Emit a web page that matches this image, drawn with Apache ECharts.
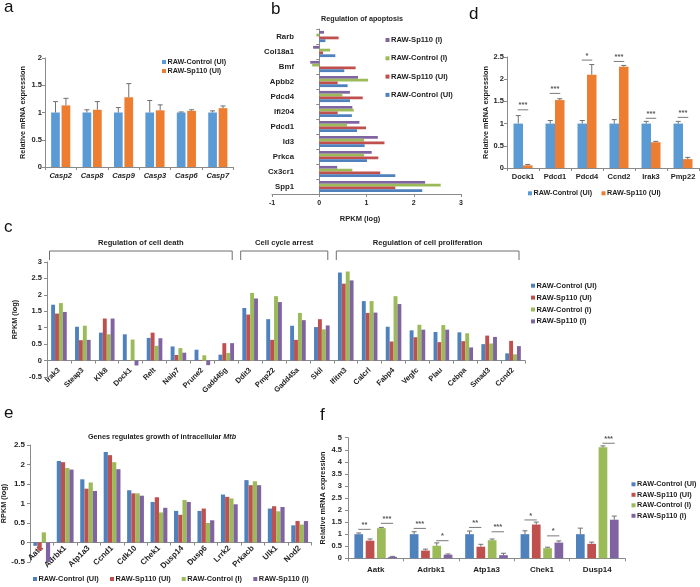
<!DOCTYPE html>
<html><head><meta charset="utf-8">
<script src="https://cdn.jsdelivr.net/npm/echarts@6/dist/echarts.min.js"></script>
<style>html,body{margin:0;padding:0;background:#fff}#c{width:700px;height:587px}</style>
</head><body><div id="c"></div>
<script>
// ---------- series names & colours ----------
const namesUI = ['RAW-Control (UI)', 'RAW-Sp110 (UI)'];
const names4 = ['RAW-Control (UI)', 'RAW-Sp110 (UI)', 'RAW-Control (I)', 'RAW-Sp110 (I)'];
const colors2 = ['#5B9BD5', '#ED7D31'];
const colors4 = ['#4F81BD', '#C0504D', '#9BBB59', '#8064A2'];

// ---------- panel a ----------
const aCategories = ['Casp2', 'Casp8', 'Casp9', 'Casp3', 'Casp6', 'Casp7'];
const aControl = [1, 1, 1, 1, 1, 1];
const aControlSd = [0.2, 0.05, 0.09, 0.22, 0.01, 0.03];
const aSp110 = [1.13, 1.05, 1.28, 1.04, 1.03, 1.08];
const aSp110Sd = [0.13, 0.15, 0.25, 0.10, 0.02, 0.04];
const aTicks = [0, 2, 0.5];

// ---------- panel b ----------
const bTitle = 'Regulation of apoptosis';
const bCategories = ['Rarb', 'Col18a1', 'Bmf', 'Apbb2', 'Pdcd4', 'Ifi204', 'Pdcd1', 'Id3', 'Prkca', 'Cx3cr1', 'Spp1'];
const bControlUI = [0.13, 0.34, 0.53, 0.60, 0.65, 0.69, 0.80, 0.96, 1.01, 1.61, 2.18];
const bSp110UI = [0.41, 0.08, 0.77, 0.39, 0.92, 0.39, 0.99, 1.38, 1.25, 1.29, 1.61];
const bControlI = [-0.06, 0.23, -0.15, 1.03, 0.49, 0.73, 0.59, 0.95, 0.95, 0.70, 2.57];
const bSp110I = [0.10, -0.13, -0.19, 0.82, 0.65, 0.70, 0.85, 1.24, 1.11, 0.38, 2.24];
const bTicks = [-1, 3, 1];

// ---------- panel c ----------
const cCategories = ['Irak3', 'Steap3', 'Klk8', 'Dock1', 'Relt', 'Naip7', 'Prune2', 'Gadd45g', 'Ddit3', 'Pmp22', 'Gadd45a', 'Skil', 'Ifitm3', 'Calcrl', 'Fabp4', 'Vegfc', 'Plau', 'Cebpa', 'Smad3', 'Ccnd2'];
const cControlUI = [1.70, 1.03, 0.85, 0.80, 0.69, 0.43, 0.33, 0.18, 1.60, 1.26, 1.06, 1.02, 2.68, 1.81, 1.03, 0.92, 0.87, 0.86, 0.50, 0.22];
const cSp110UI = [1.43, 0.62, 1.28, 0.01, 0.85, 0.17, 0.02, 0.53, 1.40, 0.63, 0.63, 1.26, 2.34, 1.45, 0.58, 0.71, 0.56, 0.59, 0.76, 0.60];
const cControlI = [1.75, 1.06, 0.80, 0.64, 0.45, 0.38, 0.16, 0.23, 2.06, 1.96, 1.45, 0.95, 2.71, 1.81, 1.96, 1.09, 1.08, 0.83, 0.52, 0.19];
const cSp110I = [1.48, 0.63, 1.28, -0.15, 0.68, 0.24, -0.14, 0.53, 1.89, 1.78, 1.23, 1.07, 2.44, 1.46, 1.72, 0.94, 0.94, 0.40, 0.72, 0.44];
const cGroups = [
  { name: 'Regulation of cell death', first: 0, last: 7 },
  { name: 'Cell cycle arrest', first: 8, last: 11 },
  { name: 'Regulation of cell proliferation', first: 12, last: 19 }
];
const cTicks = [-0.5, 3, 0.5];

// ---------- panel d ----------
const dCategories = ['Dock1', 'Pdcd1', 'Pdcd4', 'Ccnd2', 'Irak3', 'Pmp22'];
const dControl = [1, 1, 1, 1, 1, 1];
const dControlSd = [0.18, 0.07, 0.07, 0.09, 0.05, 0.05];
const dSp110 = [0.06, 1.53, 2.10, 2.28, 0.58, 0.20];
const dSp110Sd = [0.02, 0.03, 0.23, 0.03, 0.02, 0.04];
// [category, seriesFrom, seriesTo, height, label]
const dSig = [[0, 0, 1, 1.31, '***'], [1, 0, 1, 1.68, '***'], [2, 0, 1, 2.43, '*'], [3, 0, 1, 2.40, '***'], [4, 0, 1, 1.12, '***'], [5, 0, 1, 1.14, '***']];
const dTicks = [0, 2.5, 0.5];

// ---------- panel e ----------
const eTitle = 'Genes regulates growth of intracellular ';
const eTitleItalic = 'Mtb';
const eCategories = ['Aatk', 'Adrbk1', 'Atp1a3', 'Ccnd1', 'Cdk10', 'Chek1', 'Dusp14', 'Dusp6', 'Lrrk2', 'Prkacb', 'Ulk1', 'Nod2'];
const eControlUI = [-0.085, 2.09, 1.62, 2.32, 1.34, 1.04, 0.81, 0.81, 1.23, 1.60, 0.87, 0.44];
const eSp110UI = [-0.21, 2.06, 1.38, 2.24, 1.26, 1.16, 0.71, 0.87, 1.17, 1.47, 0.93, 0.55];
const eControlI = [0.26, 1.91, 1.54, 2.06, 1.26, 0.77, 1.09, 0.50, 1.13, 1.57, 0.80, 0.46];
const eSp110I = [-0.50, 1.87, 1.32, 1.88, 1.20, 0.89, 1.04, 0.57, 0.98, 1.47, 0.91, 0.55];
const eTicks = [-0.5, 2.5, 0.5];

// ---------- panel f ----------
const fCategories = ['Aatk', 'Adrbk1', 'Atp1a3', 'Chek1', 'Dusp14'];
const fControlUI = [1, 1, 1, 1, 1];
const fControlUISd = [0.05, 0.10, 0.13, 0.14, 0.25];
const fSp110UI = [0.73, 0.32, 0.48, 1.40, 0.60];
const fSp110UISd = [0.07, 0.06, 0.10, 0.10, 0.07];
const fControlI = [1.25, 0.52, 0.75, 0.42, 4.60];
const fControlISd = [0.03, 0.12, 0.05, 0.04, 0.06];
const fSp110I = [0.06, 0.15, 0.13, 0.65, 1.60];
const fSp110ISd = [0.02, 0.03, 0.08, 0.07, 0.15];
const fSig = [[0, 0, 1, 1.20, '**'], [0, 2, 3, 1.45, '***'], [1, 0, 1, 1.24, '***'], [1, 2, 3, 0.73, '*'], [2, 0, 1, 1.28, '**'], [2, 2, 3, 1.10, '***'], [3, 0, 1, 1.59, '*'], [3, 2, 3, 0.93, '*'], [4, 2, 3, 4.77, '***']];
const fTicks = [0, 5, 0.5];

const yNameMRNA = 'Relative mRNA expression';
const yNameRPKM = 'RPKM (log)';

// ---------- styling ----------
const FONT = '"Liberation Sans", Arial, Helvetica, sans-serif';
const TXT = '#1f1f1f';
const AX = '#8a8a8a';
const ERR = '#707070';

function lbl(fs, extra) { return Object.assign({ fontFamily: FONT, fontWeight: 'bold', fontSize: fs, color: TXT }, extra || {}); }

function catAxis(gi, data, labelExtra, fs) {
  return {
    type: 'category', gridIndex: gi, data: data,
    axisLine: { show: true, onZero: true, lineStyle: { color: AX, width: 1 } },
    axisTick: { show: true, length: 3, lineStyle: { color: AX } },
    axisLabel: lbl(fs || 7.5, Object.assign({ interval: 0 }, labelExtra || {})),
    splitLine: { show: false }
  };
}
function valAxis(gi, ticks, name, nameGap, labelMargin, fs) {
  const a = {
    type: 'value', gridIndex: gi, min: ticks[0], max: ticks[1], interval: ticks[2],
    axisLine: { show: true, onZero: false, lineStyle: { color: AX, width: 1 } },
    axisTick: { show: true, length: 3, lineStyle: { color: AX } },
    axisLabel: lbl(fs || 7.5, { margin: labelMargin }),
    splitLine: { show: false }
  };
  if (name) {
    a.name = name; a.nameLocation = 'middle'; a.nameGap = nameGap;
    a.nameTextStyle = lbl(7.3);
  }
  return a;
}

const grids = [
  { left: 45, top: 58, width: 188.5, height: 109 },      // a
  { left: 272, top: 29, width: 189, height: 165 },       // b
  { left: 47, top: 262, width: 478, height: 115 },       // c
  { left: 507, top: 57, width: 192, height: 111 },       // d
  { left: 30, top: 445, width: 281.4, height: 117 },     // e
  { left: 348, top: 437.7, width: 277, height: 120.6 }   // f
].map(g => Object.assign({ containLabel: false, outerBoundsMode: 'none' }, g));

const bX = valAxis(1, bTicks, null, 0, 6, 7);
bX.name = 'RPKM (log)'; bX.nameLocation = 'middle'; bX.nameGap = 21;
bX.nameTextStyle = lbl(7.5, { padding: [0, 13, 0, 0] });
const bY = catAxis(1, bCategories, { margin: -22 }, 7.8);
bY.inverse = true;

const xAxes = [
  catAxis(0, aCategories, { fontStyle: 'italic', margin: 5 }, 7.5),
  bX,
  catAxis(2, cCategories, { rotate: 45, margin: -8 }, 7.5),
  catAxis(3, dCategories, { margin: 5 }, 7.5),
  catAxis(4, eCategories, { rotate: 45, margin: -15 }, 8),
  catAxis(5, fCategories, { margin: 7 }, 8)
];
const yAxes = [
  valAxis(0, aTicks, yNameMRNA, 19, 3, 7.5),
  bY,
  valAxis(2, cTicks, yNameRPKM, 24, 5, 7.5),
  valAxis(3, dTicks, yNameMRNA, 17, 3, 7.5),
  valAxis(4, eTicks, yNameRPKM, 20, 5, 8),
  valAxis(5, fTicks, yNameMRNA, 22, 6, 7.5)
];

function bar(ai, name, data, color, bw, gap) {
  return {
    type: 'bar', name: name, xAxisIndex: ai, yAxisIndex: ai, data: data,
    barWidth: bw, barGap: gap, itemStyle: { color: color }, silent: true,
    animation: false
  };
}
function errSeries(ai, vals, sds, idx, n, bw, gapPx) {
  const off = (idx - (n - 1) / 2) * (bw + gapPx);
  return {
    type: 'custom', xAxisIndex: ai, yAxisIndex: ai, z: 5, silent: true, animation: false,
    data: vals.map((v, i) => [i, v, sds[i]]),
    encode: { x: 0, y: 1 },
    renderItem: function (params, api) {
      const c = api.value(0), v = api.value(1), sd = api.value(2);
      const p0 = api.coord([c, v]), p1 = api.coord([c, v + sd]);
      const x = p0[0] + off;
      return {
        type: 'group', children: [
          { type: 'line', shape: { x1: x, y1: p0[1], x2: x, y2: p1[1] }, style: { stroke: ERR, lineWidth: 1 } },
          { type: 'line', shape: { x1: x - 2.5, y1: p1[1], x2: x + 2.5, y2: p1[1] }, style: { stroke: ERR, lineWidth: 1 } }
        ]
      };
    }
  };
}
function sigSeries(ai, sig, n, bw, gapPx) {
  return {
    type: 'custom', xAxisIndex: ai, yAxisIndex: ai, z: 6, silent: true, animation: false,
    data: sig.map(s => [s[0], s[3]]),
    encode: { x: 0, y: 1 },
    renderItem: function (params, api) {
      const s = sig[params.dataIndex];
      const p = api.coord([api.value(0), api.value(1)]);
      const x1 = p[0] + (s[1] - (n - 1) / 2) * (bw + gapPx) - 0.5;
      const x2 = p[0] + (s[2] - (n - 1) / 2) * (bw + gapPx) + 0.5;
      return {
        type: 'group', children: [
          { type: 'line', shape: { x1: x1, y1: p[1], x2: x2, y2: p[1] }, style: { stroke: '#7a7a7a', lineWidth: 1 } },
          { type: 'text', x: (x1 + x2) / 2, y: p[1] - 0.5, style: { text: s[4], fontFamily: FONT, fontSize: 7.5, fontWeight: 'bold', fill: '#555', align: 'center', verticalAlign: 'bottom' } }
        ]
      };
    }
  };
}

const A_BW = 8.7, A_GAP = 1.74;
const B_BW = 2.8;
const C_BW = 3.9;
const D_BW = 9.5;
const E_BW = 4.2;
const F_BW = 8.7, F_GAP = 2.6;

const series = [
  // a
  bar(0, namesUI[0], aControl, colors2[0], A_BW, '20%'),
  bar(0, namesUI[1], aSp110, colors2[1], A_BW, '20%'),
  errSeries(0, aControl, aControlSd, 0, 2, A_BW, A_GAP),
  errSeries(0, aSp110, aSp110Sd, 1, 2, A_BW, A_GAP),
  // b (first series drawn at top of each band)
  bar(1, names4[3], bSp110I, colors4[3], B_BW, '0%'),
  bar(1, names4[2], bControlI, colors4[2], B_BW, '0%'),
  bar(1, names4[1], bSp110UI, colors4[1], B_BW, '0%'),
  bar(1, names4[0], bControlUI, colors4[0], B_BW, '0%'),
  // c
  bar(2, names4[0], cControlUI, colors4[0], C_BW, '0%'),
  bar(2, names4[1], cSp110UI, colors4[1], C_BW, '0%'),
  bar(2, names4[2], cControlI, colors4[2], C_BW, '0%'),
  bar(2, names4[3], cSp110I, colors4[3], C_BW, '0%'),
  // d
  bar(3, namesUI[0], dControl, colors2[0], D_BW, '0%'),
  bar(3, namesUI[1], dSp110, colors2[1], D_BW, '0%'),
  errSeries(3, dControl, dControlSd, 0, 2, D_BW, 0),
  errSeries(3, dSp110, dSp110Sd, 1, 2, D_BW, 0),
  sigSeries(3, dSig, 2, D_BW, 0),
  // e
  bar(4, names4[0], eControlUI, colors4[0], E_BW, '0%'),
  bar(4, names4[1], eSp110UI, colors4[1], E_BW, '0%'),
  bar(4, names4[2], eControlI, colors4[2], E_BW, '0%'),
  bar(4, names4[3], eSp110I, colors4[3], E_BW, '0%'),
  // f
  bar(5, names4[0], fControlUI, colors4[0], F_BW, '30%'),
  bar(5, names4[1], fSp110UI, colors4[1], F_BW, '30%'),
  bar(5, names4[2], fControlI, colors4[2], F_BW, '30%'),
  bar(5, names4[3], fSp110I, colors4[3], F_BW, '30%'),
  errSeries(5, fControlUI, fControlUISd, 0, 4, F_BW, F_GAP),
  errSeries(5, fSp110UI, fSp110UISd, 1, 4, F_BW, F_GAP),
  errSeries(5, fControlI, fControlISd, 2, 4, F_BW, F_GAP),
  errSeries(5, fSp110I, fSp110ISd, 3, 4, F_BW, F_GAP),
  sigSeries(5, fSig, 4, F_BW, F_GAP)
];

const chart = echarts.init(document.getElementById('c'), null, { renderer: 'canvas', width: 700, height: 587 });
chart.setOption({
  backgroundColor: '#ffffff',
  animation: false,
  textStyle: { fontFamily: FONT },
  grid: grids,
  xAxis: xAxes,
  yAxis: yAxes,
  series: series
});

// ---------- graphic: letters, titles, legends, brackets ----------
const g = [];
function letter(t, x, y) {
  g.push({ type: 'text', x: x, y: y, style: { text: t, fontFamily: FONT, fontSize: 17, fill: '#111', align: 'left', verticalAlign: 'middle' } });
}
letter('a', 4, 7); letter('b', 271, 9); letter('c', 4, 227); letter('d', 469, 14); letter('e', 4, 413); letter('f', 320, 415);

function legendItem(x, y, color, name, fs) {
  g.push({ type: 'rect', shape: { x: x, y: y - 2, width: 4, height: 4 }, style: { fill: color } });
  g.push({ type: 'text', x: x + 5.5, y: y, style: { text: name, fontFamily: FONT, fontWeight: 'bold', fontSize: fs, fill: TXT, align: 'left', verticalAlign: 'middle' } });
}
// a
legendItem(162, 62, colors2[0], namesUI[0], 7.2);
legendItem(162, 71, colors2[1], namesUI[1], 7.2);
// b (reverse order)
[3, 2, 1, 0].forEach((k, i) => legendItem(385.5, 40 + i * 18.3, colors4[k], names4[k], 7.6));
// c
[0, 1, 2, 3].forEach((k, i) => legendItem(531, 285.7 + i * 11.9, colors4[k], names4[k], 7.4));
// d
legendItem(528, 193.3, colors2[0], namesUI[0], 7.2);
legendItem(601.5, 193.3, colors2[1], namesUI[1], 7.2);
// e
[33, 110, 181.7, 253.3].forEach((x, k) => legendItem(x, 579, colors4[k], names4[k], 7.4));
// f
[0, 1, 2, 3].forEach((k, i) => legendItem(631.5, 484.3 + i * 10.5, colors4[k], names4[k], 7.3));

// titles
g.push({ type: 'text', x: 362, y: 19, style: { text: bTitle, fontFamily: FONT, fontWeight: 'bold', fontSize: 7.2, fill: TXT, align: 'center', verticalAlign: 'middle' } });
g.push({
  type: 'text', x: 162, y: 437, style: {
    text: '{n|' + eTitle + '}{i|' + eTitleItalic + '}', align: 'center', verticalAlign: 'middle',
    rich: { n: { fontFamily: FONT, fontWeight: 'bold', fontSize: 7.2, fill: TXT, color: TXT }, i: { fontFamily: FONT, fontWeight: 'bold', fontStyle: 'italic', fontSize: 7.2, fill: TXT, color: TXT } }
  }
});

// brackets for panel c, positioned from the axis
const c0 = chart.convertToPixel({ gridIndex: 2 }, [0, 3]);
const c1 = chart.convertToPixel({ gridIndex: 2 }, [1, 3]);
const band = c1[0] - c0[0];
cGroups.forEach(grp => {
  const xa = chart.convertToPixel({ gridIndex: 2 }, [grp.first, 3])[0] - band / 2 + 2.5;
  const xb = chart.convertToPixel({ gridIndex: 2 }, [grp.last, 3])[0] + band / 2 - 6;
  const yTop = c0[1] - 11, yBot = c0[1] - 2;
  g.push({ type: 'polyline', shape: { points: [[xa, yBot], [xa, yTop], [xb, yTop], [xb, yBot]] }, style: { stroke: '#6e6e6e', lineWidth: 1, fill: null } });
  g.push({ type: 'text', x: (xa + xb) / 2, y: yTop - 8, style: { text: grp.name, fontFamily: FONT, fontWeight: 'bold', fontSize: 7.6, fill: TXT, align: 'center', verticalAlign: 'middle' } });
});

chart.setOption({ graphic: g });
</script></body></html>
